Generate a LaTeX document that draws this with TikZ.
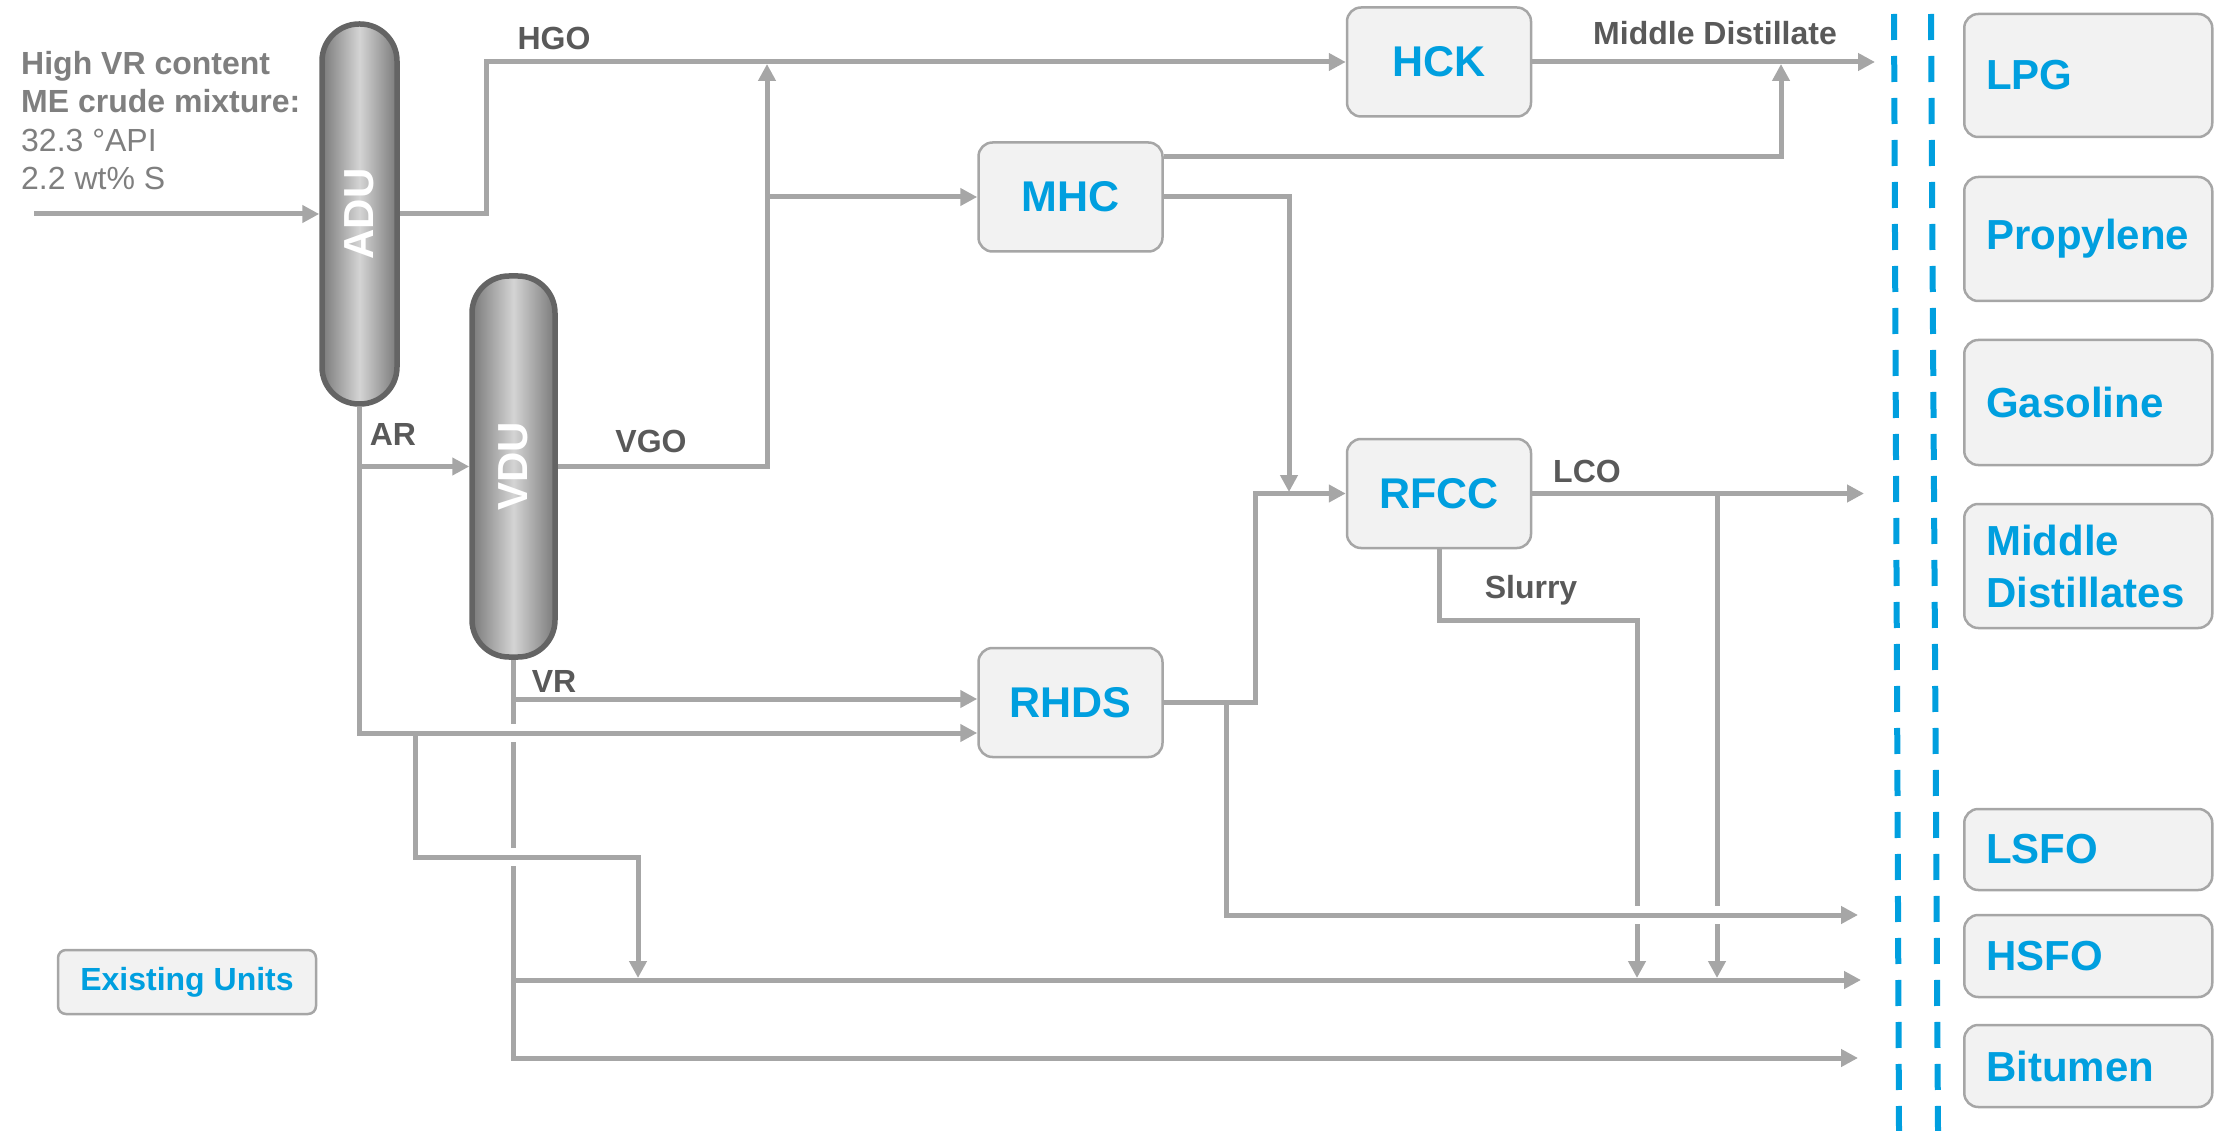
\documentclass[tikz,border=0pt]{standalone}
\usepackage{fontspec}
\setmainfont{Liberation Sans}
\usetikzlibrary{arrows.meta}
\definecolor{lgray}{HTML}{A6A6A6}
\definecolor{dgray}{HTML}{595959}
\definecolor{tgray}{HTML}{7F7F7F}
\definecolor{ublue}{HTML}{009FDF}
\definecolor{boxfill}{HTML}{F2F2F2}
\definecolor{boxline}{HTML}{A6A6A6}
\definecolor{capline}{HTML}{646464}
\definecolor{capdark}{HTML}{7A7A7A}
\definecolor{caplight}{HTML}{D4D4D4}
\begin{document}
\begin{tikzpicture}[x=1pt,y=-1pt,
  flow/.style={draw=lgray, line width=5pt},
  arr/.style={flow, -{Triangle[length=17pt,width=17pt]}},
  unitbox/.style={draw=boxline, fill=boxfill, line width=2.5pt, rounded corners=14pt,
    text=ublue, font=\fontsize{43}{50}\selectfont\bfseries,
    minimum width=184pt, minimum height=109pt, inner sep=0pt},
  prodbox/.style={draw=boxline, fill=boxfill, line width=2.5pt, rounded corners=14pt,
    text=ublue, font=\fontsize{42}{52}\selectfont\bfseries, anchor=west,
    minimum width=248pt, text width=204pt, inner xsep=22pt, inner ysep=0pt, align=left},
  capsule/.style={draw=capline, line width=5.5pt, rounded corners=37pt,
    left color=capdark, right color=capdark, middle color=caplight, inner sep=0pt},
  caplabel/.style={text=white, font=\fontsize{42}{50}\selectfont\bfseries, rotate=90},
  flabel/.style={text=dgray, font=\fontsize{32}{38}\selectfont\bfseries, inner sep=0pt, anchor=base},
  feedline/.style={text=tgray, font=\fontsize{32}{38}\selectfont, inner sep=0pt, anchor=base west},
  dashline/.style={draw=ublue, line width=6pt, dash pattern=on 26pt off 16pt}
]
\useasboundingbox (0,0) rectangle (2214,1131);

% feed text
\node[feedline, font=\fontsize{32}{38}\selectfont\bfseries] (feed1) at (21,75)  {High VR content};
\node[feedline, font=\fontsize{32}{38}\selectfont\bfseries] (feed2) at (21,113) {ME crude mixture:};
\node[feedline] (feed3) at (21,152) {32.3 °API};
\node[feedline] (feed4) at (21,190) {2.2 wt\% S};

% columns
\node[capsule, minimum width=75pt, minimum height=380pt] (adu) at (359.5,214) {};
\node[caplabel] (adulbl) at (adu) {ADU};
\node[capsule, minimum width=83pt, minimum height=381pt] (vdu) at (513.5,466.5) {};
\node[caplabel] (vdulbl) at (vdu) {VDU};

% units
\node[unitbox] (hck)  at (1439,62)     {HCK};
\node[unitbox] (mhc)  at (1070.5,197)  {MHC};
\node[unitbox] (rfcc) at (1439,493.5)  {RFCC};
\node[unitbox] (rhds) at (1070.5,702.5) {RHDS};

% products
\node[prodbox, minimum height=123pt] (lpg)  at (1963,75.5)  {LPG};
\node[prodbox, minimum height=124pt] (prop) at (1963,239)   {Propylene};
\node[prodbox, minimum height=125pt] (gaso) at (1963,402.5) {Gasoline};
\node[prodbox, minimum height=124pt] (mdst) at (1963,566)   {Middle\\Distillates};
\node[prodbox, minimum height=81pt]  (lsfo) at (1963,849.5) {LSFO};
\node[prodbox, minimum height=82pt]  (hsfo) at (1963,956)   {HSFO};
\node[prodbox, minimum height=82pt]  (bitu) at (1963,1066)  {Bitumen};

% legend
\node[draw=boxline, fill=boxfill, line width=2.5pt, rounded corners=8pt, text=ublue,
      font=\fontsize{32}{36}\selectfont\bfseries, minimum width=258pt, minimum height=64pt,
      inner sep=0pt] (legend) at (187,982) {Existing Units};

% dashed separators
\coordinate (d1t) at (1894,14);  \coordinate (d1b) at (1899,1131);
\coordinate (d2t) at (1931,14);  \coordinate (d2b) at (1938,1131);
\draw[dashline] (d1t) -- (d1b);
\draw[dashline] (d2t) -- (d2b);

% coordinates
\coordinate (feedst) at (34,214);
\coordinate (vgoj) at (767,64);
\coordinate (mhcj) at (767,197);
\coordinate (mdj) at (1781,64);
\coordinate (mdend) at (1875,62);
\coordinate (rfccj) at (1289,492);
\coordinate (rhdsup) at (1255,702.5);
\coordinate (lsfoj) at (1226,702.5);
\coordinate (lsfoend) at (1858,915);
\coordinate (lcoend) at (1864,493.5);
\coordinate (arj) at (359.5,466.5);
\coordinate (arb) at (415,733);
\coordinate (hsfost) at (513.5,980);
\coordinate (hsfoend) at (1861,980);
\coordinate (bitend) at (1858,1058);
\coordinate (vrj) at (513.5,699);

% connectors
\draw[arr] (feedst) -- (adu.west);
\draw[arr] (adu.east) -- ++(87,0) |- (hck.west);
\draw[arr] (vdu.east) -| (vgoj);
\draw[arr] (mhcj) -- (mhc.west);
\draw[arr] ([yshift=40pt]mhc.east) -| (mdj);
\draw[arr] (hck.east) -- (mdend);
\draw[arr] (mhc.east) -| (rfccj);
\draw[arr] (rhds.east) -- (rhdsup) |- (rfcc.west);
\draw[arr] (lsfoj) |- (lsfoend);
\draw[arr] (rfcc.east) -- (lcoend);
\draw[flow] (1717,493.5) -- (1717,906);
\draw[arr] (1717,924) -- (1717,978);
\draw[flow] (rfcc.south) |- (1637,620) -- (1637,906);
\draw[arr] (1637,924) -- (1637,978);

\draw[arr] (adu.south) |- ([yshift=-30.5pt]rhds.west);
\draw[arr] (arj) -- (vdu.west);
\draw[arr] (arb) |- (638,857) -- (638,978);

\draw[flow] (vdu.south) -- (513.5,724);
\draw[flow] (513.5,742) -- (513.5,848);
\draw[arr] (513.5,866) |- (bitend);
\draw[arr] (vrj) -- ([yshift=3.5pt]rhds.west);
\draw[arr] (hsfost) -- (hsfoend);

% flow labels
\node[flabel] (lhgo) at (554,50) {HGO};
\node[flabel] (lmd)  at (1715,45) {Middle Distillate};
\node[flabel] (lvgo) at (651,452.5) {VGO};
\node[flabel] (lar)  at (393,445) {AR};
\node[flabel] (lvr)  at (554,692) {VR};
\node[flabel] (llco) at (1587,482) {LCO};
\node[flabel] (lsl)  at (1531,598) {Slurry};
\end{tikzpicture}
\end{document}
